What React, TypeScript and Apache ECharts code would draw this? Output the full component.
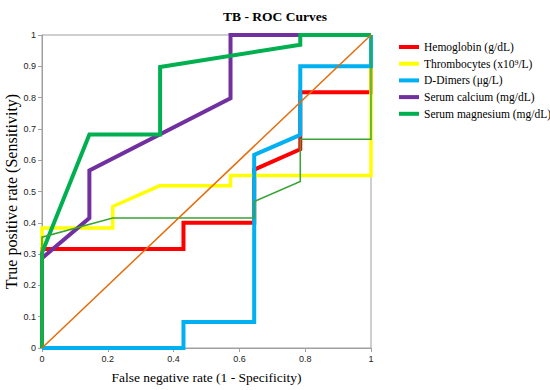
import React, { useEffect, useRef } from "react";
import * as echarts from "echarts";

const xTicks = [0, 0.2, 0.4, 0.6, 0.8, 1];
const yTicks = [0, 0.1, 0.2, 0.3, 0.4, 0.5, 0.6, 0.7, 0.8, 0.9, 1];

const hemoglobin: number[][] = [[0, 0], [0, 0.316], [0.43, 0.316], [0.43, 0.4], [0.645, 0.4], [0.645, 0.57], [0.785, 0.635], [0.785, 0.817], [1, 0.817], [1, 1]];
const thrombocytes: number[][] = [[0, 0], [0, 0.383], [0.215, 0.383], [0.215, 0.452], [0.357, 0.518], [0.573, 0.518], [0.573, 0.551], [1, 0.551], [1, 0.9], [1, 1]];
const dDimers: number[][] = [[0, 0], [0.43, 0], [0.43, 0.083], [0.645, 0.083], [0.645, 0.617], [0.785, 0.681], [0.785, 0.9], [1, 0.9], [1, 1]];
const serumCalcium: number[][] = [[0, 0], [0, 0.287], [0.144, 0.415], [0.144, 0.567], [0.573, 0.798], [0.573, 1], [1, 1]];
const serumMagnesium: number[][] = [[0, 0], [0, 0.304], [0.144, 0.682], [0.359, 0.682], [0.359, 0.898], [0.785, 0.969], [0.785, 1], [1, 1]];
const combined: number[][] = [[0, 0], [0, 0.354], [0.215, 0.415], [0.645, 0.415], [0.645, 0.468], [0.785, 0.532], [0.785, 0.667], [1, 0.667], [1, 1]];
const reference: number[][] = [[0, 0], [1, 1]];

const seriesNames = [
  "Hemoglobin (g/dL)",
  "Thrombocytes (x10\u2079/L)",
  "D-Dimers (\u03bcg/L)",
  "Serum calcium (mg/dL)",
  "Serum magnesium (mg/dL)",
];

const SERIF = "'Liberation Serif', 'Times New Roman', serif";
const SANS = "'Liberation Sans', Arial, sans-serif";

export default function App() {
  const ref = useRef<HTMLDivElement>(null);
  useEffect(() => {
    if (!ref.current) return;
    const chart = echarts.init(ref.current, null, { renderer: "svg" });
    const mk = (name: string, data: number[][], color: string, width: number) => ({
      name,
      type: "line",
      data,
      symbol: "none",
      clip: false,
      lineStyle: { color, width, join: "miter" },
      itemStyle: { color },
      emphasis: { disabled: true },
    });
    chart.setOption({
      animation: false,
      backgroundColor: "#ffffff",
      title: {
        text: "TB - ROC Curves",
        left: "center",
        top: 4,
        textStyle: { fontFamily: SERIF, fontSize: 13.5, fontWeight: "bold", color: "#000" },
      },
      legend: {
        data: seriesNames,
        orient: "vertical",
        left: 394,
        top: 36,
        width: 156,
        icon: "rect",
        itemWidth: 20,
        itemHeight: 4,
        itemGap: 4.7,
        textStyle: { fontFamily: SERIF, fontSize: 11.5, color: "#000", lineHeight: 12, overflow: "none" },
      },
      grid: {
        left: 42,
        right: 179,
        top: 35,
        bottom: 42,
        containLabel: false,
        outerBoundsMode: "none",
        show: true,
        borderColor: "#a0a0a0",
        borderWidth: 1,
      },
      xAxis: {
        type: "value",
        min: 0,
        max: 1,
        interval: 0.2,
        name: "False negative rate (1 - Specificity)",
        nameLocation: "middle",
        nameGap: 22,
        nameMoveOverlap: false,
        nameTextStyle: { fontFamily: SERIF, fontSize: 13.5, color: "#000" },
        axisLine: { show: true, lineStyle: { color: "#a0a0a0" } },
        axisTick: { show: true, length: 4, lineStyle: { color: "#a0a0a0" } },
        splitLine: { show: false },
        axisLabel: {
          fontFamily: SANS,
          fontSize: 9,
          color: "#222",
          margin: 6,
          formatter: (v: number) => String(xTicks.find((t) => Math.abs(t - v) < 1e-6) ?? v),
        },
      },
      yAxis: {
        type: "value",
        min: 0,
        max: 1,
        interval: 0.1,
        name: "True positive rate (Sensitivity)",
        nameLocation: "middle",
        nameGap: 23,
        nameMoveOverlap: false,
        nameTextStyle: { fontFamily: SERIF, fontSize: 16, color: "#000" },
        axisLine: { show: true, lineStyle: { color: "#a0a0a0" } },
        axisTick: { show: true, length: 4, lineStyle: { color: "#a0a0a0" } },
        splitLine: { show: false },
        axisLabel: {
          fontFamily: SANS,
          fontSize: 9,
          color: "#222",
          margin: 6,
          formatter: (v: number) => String(yTicks.find((t) => Math.abs(t - v) < 1e-6) ?? v),
        },
      },
      series: [
        mk(seriesNames[0], hemoglobin, "#ff0000", 4),
        mk(seriesNames[1], thrombocytes, "#ffff00", 3.5),
        mk(seriesNames[2], dDimers, "#00b0f0", 4),
        mk(seriesNames[3], serumCalcium, "#7030a0", 4),
        mk(seriesNames[4], serumMagnesium, "#00b050", 4),
        mk("Combined", combined, "#3aa335", 1.5),
        mk("Reference", reference, "#e46c0a", 1.5),
      ],
    });
    return () => chart.dispose();
  }, []);
  return <div ref={ref} style={{ position: "absolute", left: 0, top: 0, width: 550, height: 390 }} />;
}
